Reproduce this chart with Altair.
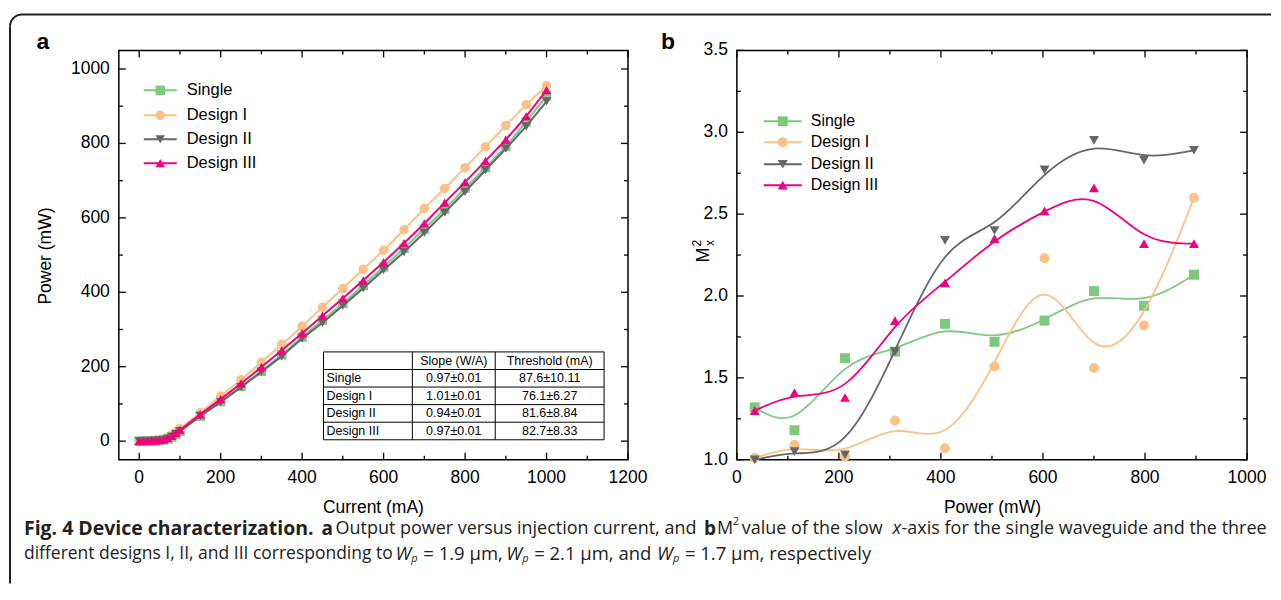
import altair as alt
import pandas as pd

# ---------------- data ----------------
current_ma = [0, 10, 20, 30, 40, 50, 60, 70, 80, 90, 100, 150, 200, 250, 300, 350, 400,
              450, 500, 550, 600, 650, 700, 750, 800, 850, 900, 950, 1000]
power_single = [0, 0, 0.5, 1, 1.5, 2, 3.5, 6, 11, 18, 26, 67, 106, 147, 188, 232, 280,
                325, 370, 418, 468, 518, 570, 623, 680, 735, 792, 858, 928]
power_design1 = [0, 0, 0.5, 1, 1.5, 2.5, 5, 10, 17, 25, 34, 77, 121, 165, 212, 260, 309,
                 360, 410, 462, 513, 568, 625, 679, 735, 791, 848, 904, 955]
power_design2 = [0, 0, 0.5, 1, 1.5, 2, 3.5, 7, 12, 19, 27, 68, 105, 145, 186, 228, 276,
                 318, 364, 411, 460, 508, 560, 614, 670, 728, 786, 846, 913]
power_design3 = [0, 0, 0.5, 1, 1.5, 2.5, 4, 8, 14, 22, 30, 72, 113, 155, 199, 244, 290,
                 337, 384, 432, 481, 532, 585, 641, 696, 753, 810, 873, 943]

power_mw = [35, 113, 212, 310, 408, 505, 603, 700, 798, 896]
m2x_single = [1.32, 1.18, 1.62, 1.66, 1.83, 1.72, 1.85, 2.03, 1.94, 2.13]
m2x_design1 = [1.01, 1.09, 1.02, 1.24, 1.07, 1.57, 2.23, 1.56, 1.82, 2.60]
m2x_design2 = [1.00, 1.05, 1.03, 1.66, 2.34, 2.40, 2.77, 2.95, 2.83, 2.89]
m2x_design3 = [1.30, 1.41, 1.38, 1.85, 2.08, 2.35, 2.52, 2.66, 2.32, 2.32]

series_names = ["Single", "Design I", "Design II", "Design III"]
series_colors = ["#7fc97f", "#fdc086", "#666666", "#f0027f"]
series_shapes = ["square", "circle", "triangle-down", "triangle-up"]

table_columns = ["", "Slope (W/A)", "Threshold (mA)"]
table_slope = ["0.97±0.01", "1.01±0.01", "0.94±0.01", "0.97±0.01"]
table_threshold = ["87.6±10.11", "76.1±6.27", "81.6±8.84", "82.7±8.33"]

a_x_major = [0, 200, 400, 600, 800, 1000, 1200]
a_x_minor = [100, 300, 500, 700, 900, 1100]
a_y_major = [0, 200, 400, 600, 800, 1000]
a_y_minor = [100, 300, 500, 700, 900]
b_x_major = [0, 200, 400, 600, 800, 1000]
b_x_minor = [100, 300, 500, 700, 900]
b_y_major = [1.0, 1.5, 2.0, 2.5, 3.0, 3.5]
b_y_minor = [1.25, 1.75, 2.25, 2.75, 3.25]

# ---------------- style / layout ----------------
FONT = "Liberation Sans"
CAP_FONT = "Open Sans"
W_A, W_B, H = 510, 511, 410
OX_A, OY = 118, 49          # page position of panel a plot area
OX_B = 737                  # page position of panel b plot area
LBL = 17.5
one = pd.DataFrame({"k": [0]})


def txt(text, x, y, size, weight="normal", style="normal", align="left",
        angle=0, font=FONT, color="black"):
    kw = dict(align=align, baseline="middle", font=font, fontSize=size,
              fontWeight=weight, fontStyle=style, color=color)
    if angle:
        kw["angle"] = angle
    return alt.Chart(one).mark_text(**kw).encode(
        x=alt.value(x), y=alt.value(y), text=alt.value(text))


def rule(x, y, x2, y2, color="black", width=1.0):
    return alt.Chart(one).mark_rule(color=color, strokeWidth=width).encode(
        x=alt.value(x), y=alt.value(y), x2=alt.value(x2), y2=alt.value(y2))


def tick_layers(xmaj, xmin, ymaj, ymin, xs, ys, w, h, xfmt, yfmt):
    out = []
    for vals, L in [(xmaj, 7), (xmin, 4)]:
        df = pd.DataFrame({"v": vals})
        X = alt.X("v:Q", scale=xs, axis=None)
        out.append(alt.Chart(df).mark_rule(color="black", strokeWidth=1.3).encode(
            x=X, y=alt.value(h), y2=alt.value(h - L)))
        out.append(alt.Chart(df).mark_rule(color="black", strokeWidth=1.3).encode(
            x=X, y=alt.value(0), y2=alt.value(L)))
    for vals, L in [(ymaj, 7), (ymin, 4)]:
        df = pd.DataFrame({"v": vals})
        Y = alt.Y("v:Q", scale=ys, axis=None)
        out.append(alt.Chart(df).mark_rule(color="black", strokeWidth=1.3).encode(
            y=Y, x=alt.value(0), x2=alt.value(L)))
        out.append(alt.Chart(df).mark_rule(color="black", strokeWidth=1.3).encode(
            y=Y, x=alt.value(w), x2=alt.value(w - L)))
    # tick labels placed through the scales
    dfx = pd.DataFrame({"v": xmaj})
    out.append(alt.Chart(dfx).mark_text(align="center", baseline="middle", font=FONT,
                                        fontSize=LBL, color="black").encode(
        x=alt.X("v:Q", scale=xs, axis=None), y=alt.value(h + 18),
        text=alt.Text("v:Q", format=xfmt)))
    dfy = pd.DataFrame({"v": ymaj})
    out.append(alt.Chart(dfy).mark_text(align="right", baseline="middle", font=FONT,
                                        fontSize=LBL, color="black").encode(
        y=alt.Y("v:Q", scale=ys, axis=None), x=alt.value(-9),
        text=alt.Text("v:Q", format=yfmt)))
    return out


def series_layers(xv, ys_list, xs, ys, interp, sw, size):
    out = []
    for ys_vals, col, shp in zip(ys_list, series_colors, series_shapes):
        df = pd.DataFrame({"x": xv, "y": ys_vals})
        enc = dict(x=alt.X("x:Q", scale=xs, axis=None), y=alt.Y("y:Q", scale=ys, axis=None))
        out.append(alt.Chart(df).mark_line(color=col, strokeWidth=sw, interpolate=interp).encode(**enc))
        out.append(alt.Chart(df).mark_point(shape=shp, filled=True, size=size, color=col,
                                            opacity=1).encode(**enc))
    return out


def legend_layers(rows_y, lx1, lx2, mx, tx, size, fsize):
    out = []
    for name, col, shp, y in zip(series_names, series_colors, series_shapes, rows_y):
        out.append(rule(lx1, y, lx2, y, color=col, width=2))
        out.append(alt.Chart(one).mark_point(shape=shp, filled=True, size=size, color=col,
                                             opacity=1).encode(x=alt.value(mx), y=alt.value(y)))
        out.append(txt(name, tx, y, fsize))
    return out


# ---------------- panel a ----------------
XA = alt.Scale(domain=[-50, 1200], nice=False, zero=False)
YA = alt.Scale(domain=[-50, 1050], nice=False, zero=False)

# figure frame: rounded top-left corner, top edge and left edge
BX, BY, BR = 9, 13, 12
frame = [
    rule(BX + BR - OX_A, BY - OY, 1272 - OX_A, BY - OY, color="#222", width=2),
    rule(BX - OX_A, BY + BR - OY, BX - OX_A, 583 - OY, color="#222", width=2),
    alt.Chart(one).mark_arc(color="#222").encode(
        x=alt.value(BX + BR - OX_A), y=alt.value(BY + BR - OY),
        theta=alt.value(4.7124), theta2=alt.value(6.2832),
        radius=alt.value(BR + 1), radius2=alt.value(BR - 1)),
]

a_layers = list(frame)
a_layers += tick_layers(a_x_major, a_x_minor, a_y_major, a_y_minor, XA, YA, W_A, H, "d", "d")
a_layers += series_layers(current_ma, [power_single, power_design1, power_design2, power_design3],
                          XA, YA, "linear", 2, 90)
a_layers += legend_layers([40, 65, 89, 113], 25, 58, 41.5, 68, 90, 16.5)
a_layers.append(txt("Current (mA)", 373 - OX_A, 507 - OY, 17.5, align="center"))
a_layers.append(txt("Power (mW)", 45 - OX_A, 255 - OY, 17.5, align="center", angle=270))

# table
col_edges = [205, 294, 377, 486]
row_h = 17.6
row_edges = [302 + row_h * i for i in range(6)]
a_layers.append(alt.Chart(one).mark_rect(fill="white", stroke="black", strokeWidth=1).encode(
    x=alt.value(col_edges[0]), x2=alt.value(col_edges[-1]),
    y=alt.value(row_edges[0]), y2=alt.value(row_edges[-1])))
for ry in row_edges[1:-1]:
    a_layers.append(rule(col_edges[0], ry, col_edges[-1], ry))
for cx in col_edges[1:-1]:
    a_layers.append(rule(cx, row_edges[0], cx, row_edges[-1]))
mid = lambda i: (row_edges[i] + row_edges[i + 1]) / 2
cmid = lambda j: (col_edges[j] + col_edges[j + 1]) / 2
for j in (1, 2):
    a_layers.append(txt(table_columns[j], cmid(j), mid(0), 12.5, align="center"))
for i, (nm, sl, th) in enumerate(zip(series_names, table_slope, table_threshold)):
    a_layers.append(txt(nm, col_edges[0] + 3, mid(i + 1), 12.5))
    a_layers.append(txt(sl, cmid(1), mid(i + 1), 12.5, align="center"))
    a_layers.append(txt(th, cmid(2), mid(i + 1), 12.5, align="center"))

# panel letter
a_layers.append(txt("a", 42 - OX_A, 41 - OY, 23, weight="bold", align="center"))

# caption
CS = 18
CS2 = 18.5
L1, L2 = 528 - OY, 553 - OY
cap = [
    ("Fig. 4 Device characterization.", 23, L1, 19.5, "bold", "normal"),
    ("a", 321, L1, 19, "bold", "normal"),
    ("Output power versus injection current, and", 335, L1, CS, "normal", "normal"),
    ("b", 704, L1, 19, "bold", "normal"),
    ("M", 717, L1, CS, "normal", "normal"),
    ("2", 733, L1 - 7, 11, "normal", "normal"),
    ("value of the slow", 742, L1, CS, "normal", "normal"),
    ("x", 893, L1, CS, "normal", "italic"),
    ("-axis for the single waveguide and the three", 902, L1, CS, "normal", "normal"),
    ("different designs I, II, and III corresponding to", 23, L2, 17.5, "normal", "normal"),
    ("W", 395, L2, CS2, "normal", "italic"),
    ("p", 411, L2 + 5, 11, "normal", "italic"),
    ("= 1.9 μm,", 423, L2, CS2, "normal", "normal"),
    ("W", 506, L2, CS2, "normal", "italic"),
    ("p", 522, L2 + 5, 11, "normal", "italic"),
    ("= 2.1 μm, and", 534, L2, CS2, "normal", "normal"),
    ("W", 657, L2, CS2, "normal", "italic"),
    ("p", 673, L2 + 5, 11, "normal", "italic"),
    ("= 1.7 μm, respectively", 685, L2, CS2, "normal", "normal"),
]
for t, x, y, s, wgt, sty in cap:
    a_layers.append(txt(t, x - OX_A, y, s, weight=wgt, style=sty, font=CAP_FONT, color="#222"))

panel_a = alt.layer(*a_layers).properties(width=W_A, height=H)

# ---------------- panel b ----------------
XB = alt.Scale(domain=[0, 1000], nice=False, zero=False)
YB = alt.Scale(domain=[1.0, 3.5], nice=False, zero=False)

b_layers = []
b_layers += tick_layers(b_x_major, b_x_minor, b_y_major, b_y_minor, XB, YB, W_B, H, "d", ".1f")
b_layers += series_layers(power_mw, [m2x_single, m2x_design1, m2x_design2, m2x_design3],
                          XB, YB, "basis", 1.8, 100)
b_layers += legend_layers([71, 92, 114, 135], 27, 65, 46, 74, 100, 16)
b_layers.append(txt("Power (mW)", 993 - OX_B, 507 - OY, 17.5, align="center"))
b_layers.append(txt("b", 668 - OX_B, 41 - OY, 23, weight="bold", align="center"))
b_layers.append(txt("M", 704 - OX_B, 254 - OY, 18, angle=270, align="center"))
b_layers.append(txt("2", 697 - OX_B, 242 - OY, 12, angle=270, align="center"))
b_layers.append(txt("x", 710 - OX_B, 242 - OY, 12, angle=270, align="center"))

panel_b = alt.layer(*b_layers).properties(width=W_B, height=H)

chart = alt.hconcat(panel_a, panel_b, spacing=OX_B - OX_A - W_A, bounds="flush",
                    padding={"left": 0, "top": 4, "right": 0, "bottom": 0}
                    ).configure_view(stroke="black", strokeWidth=1.5)

chart.save("out.html", embed_options={"renderer": "svg", "actions": False})
